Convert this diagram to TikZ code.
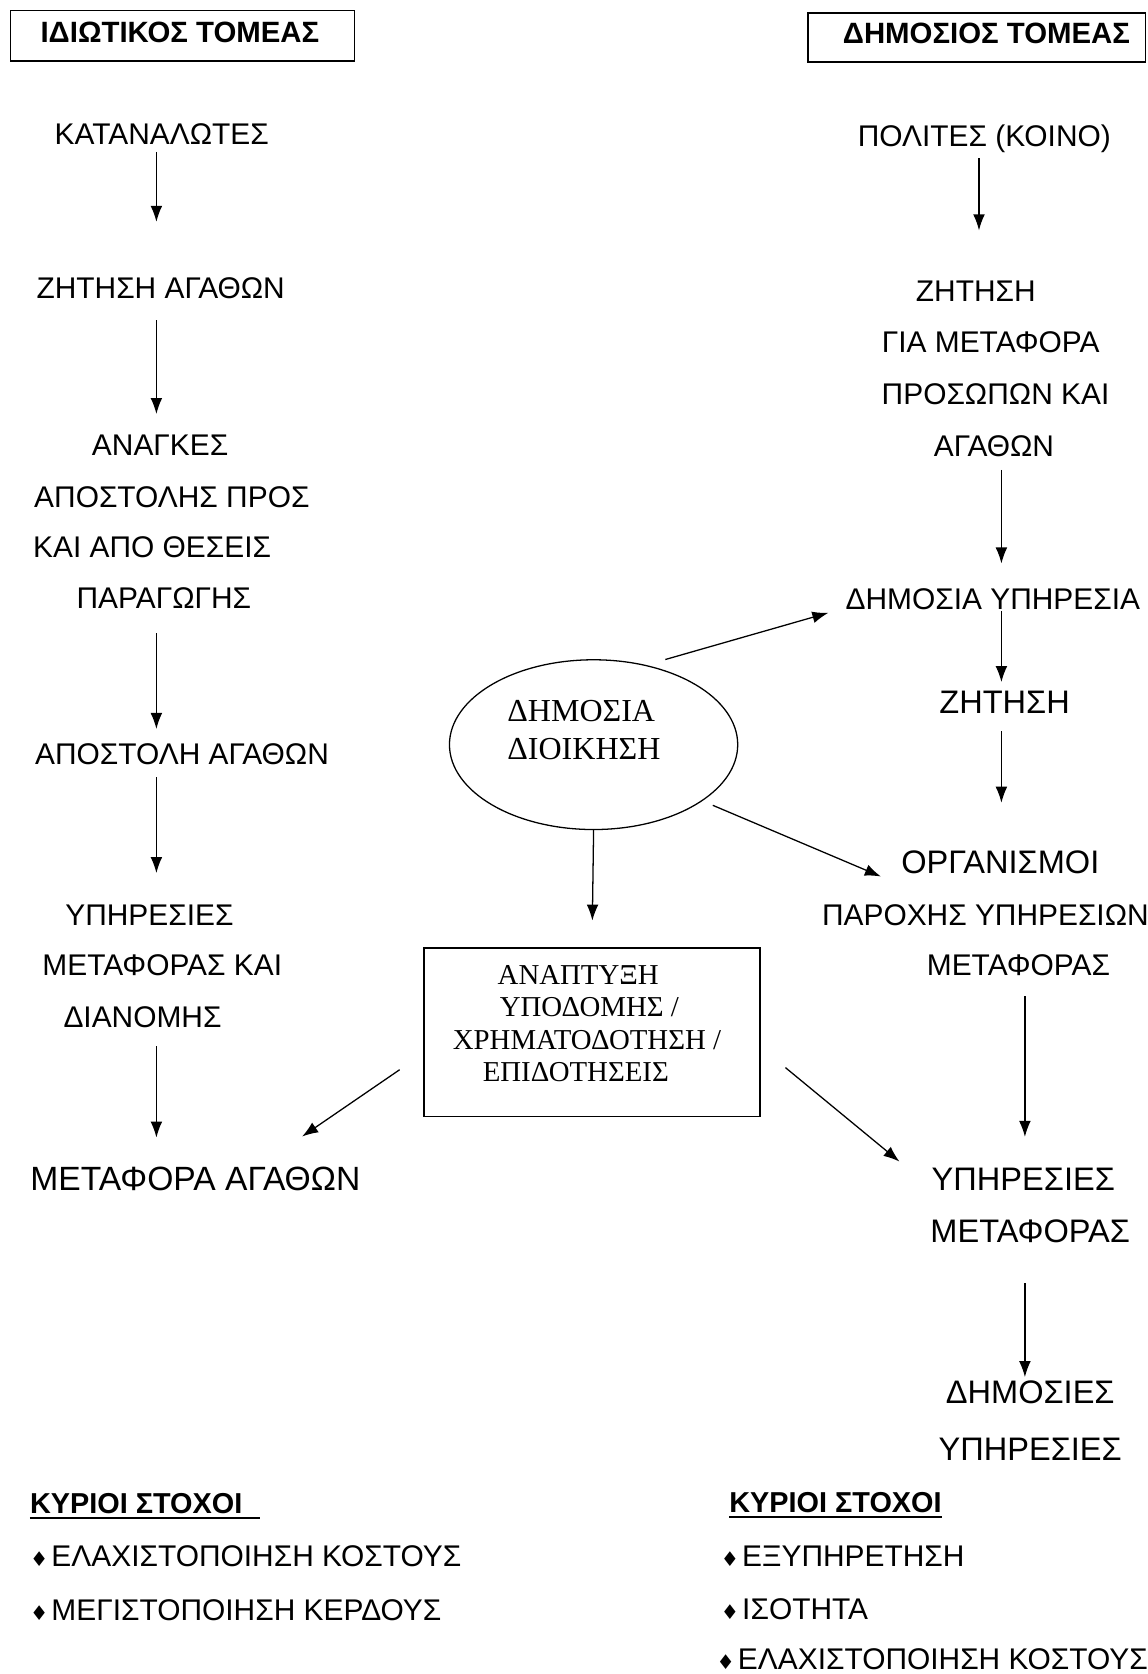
\documentclass[tikz,border=0pt]{standalone}
\usepackage{fontspec}
\setmainfont{Liberation Sans}
\newfontfamily\timesgr{Liberation Serif}
\newfontfamily\symfont{DejaVu Sans}
\usetikzlibrary{arrows.meta,shapes.geometric}

% small diamond bullet in front of each goal
\newcommand\gdmd{{\symfont\fontsize{19}{19}\selectfont ♦}\hspace{3pt}}

\tikzset{
  lbl/.style={inner sep=0pt, font=\fontsize{28}{28}\selectfont, text height=20pt, text depth=0pt},
  lblbig/.style={inner sep=0pt, font=\fontsize{30.5}{30.5}\selectfont, text height=21.8pt, text depth=0pt},
  lblhuge/.style={inner sep=0pt, font=\fontsize{31.5}{31.5}\selectfont, text height=22.5pt, text depth=0pt},
  ttl/.style={inner sep=0pt, font=\bfseries\fontsize{27.5}{27.5}\selectfont, text height=19.7pt, text depth=0pt},
  goal/.style={lbl, anchor=west},
  goalhead/.style={inner sep=0pt, anchor=west, font=\bfseries\fontsize{27}{27}\selectfont, text height=19.3pt, text depth=0pt},
  srf/.style={inner sep=0pt, anchor=west, font=\timesgr\fontsize{30}{30}\selectfont, text height=20pt, text depth=0pt},
  srfbox/.style={inner sep=0pt, anchor=west, font=\timesgr\fontsize{27}{27}\selectfont, text height=17.8pt, text depth=0pt},
  frame/.style={draw, line width=1.4pt, inner sep=0pt},
  arr/.style={draw, line width=1.2pt, -{Latex[length=15pt,width=11pt]}},
  uline/.style={draw, line width=1.6pt},
}

\begin{document}
\begin{tikzpicture}[x=1pt,y=-1pt]
\fill[white] (0,0) rectangle (1075,1568);
\useasboundingbox (0,0) rectangle (1075,1568);

% ---------------- private sector column ----------------
\node[frame, minimum width=322pt, minimum height=47pt] (privbox) at (171,33.5) {};
\node[ttl] (privttl) at (168.5,30) {ΙΔΙΩΤΙΚΟΣ ΤΟΜΕΑΣ};
\node[lbl] (cons)  at (151.5,125) {ΚΑΤΑΝΑΛΩΤΕΣ};
\node[lbl] (dem)   at (150.5,270) {ΖΗΤΗΣΗ ΑΓΑΘΩΝ};
\node[lbl] (need1) at (150,417)   {ΑΝΑΓΚΕΣ};
\node[lbl] (need2) at (161,465)   {ΑΠΟΣΤΟΛΗΣ ΠΡΟΣ};
\node[lbl] (need3) at (142.5,512) {ΚΑΙ ΑΠΟ ΘΕΣΕΙΣ};
\node[lbl] (need4) at (153.5,560) {ΠΑΡΑΓΩΓΗΣ};
\node[lbl] (ship)  at (170.5,706) {ΑΠΟΣΤΟΛΗ ΑΓΑΘΩΝ};
\node[lbl] (dist1) at (140,857)   {ΥΠΗΡΕΣΙΕΣ};
\node[lbl] (dist2) at (152,904)   {ΜΕΤΑΦΟΡΑΣ ΚΑΙ};
\node[lbl] (dist3) at (133.5,952) {ΔΙΑΝΟΜΗΣ};
\node[lblhuge] (goods) at (183,1104) {ΜΕΤΑΦΟΡΑ ΑΓΑΘΩΝ};

\coordinate (colL) at (146.5,0);
\draw[arr, shorten <=7pt,  shorten >=52pt] (cons.south -| colL)  -- (dem.north -| colL);
\draw[arr, shorten <=20pt, shorten >=19pt] (dem.south -| colL)   -- (need1.north -| colL);
\draw[arr, shorten <=23pt, shorten >=13pt] (need4.south -| colL) -- (ship.north -| colL);
\draw[arr, shorten <=12pt, shorten >=29pt] (ship.south -| colL)  -- (dist1.north -| colL);
\draw[arr, shorten <=18pt, shorten >=27pt] (dist3.south -| colL) -- (goods.north -| colL);

% ---------------- public sector column ----------------
\node[frame, minimum width=316pt, minimum height=46pt] (pubbox) at (915,35) {};
\node[ttl] (pubttl) at (924,31) {ΔΗΜΟΣΙΟΣ ΤΟΜΕΑΣ};
\node[lbl] (cit)  at (922,127)   {ΠΟΛΙΤΕΣ (ΚΟΙΝΟ)};
\node[lbl] (req1) at (914,272)   {ΖΗΤΗΣΗ};
\node[lbl] (req2) at (928,320)   {ΓΙΑ ΜΕΤΑΦΟΡΑ};
\node[lbl] (req3) at (932.5,369) {ΠΡΟΣΩΠΩΝ ΚΑΙ};
\node[lbl] (req4) at (931,418)   {ΑΓΑΘΩΝ};
\node[lbl] (psvc) at (930,561)   {ΔΗΜΟΣΙΑ ΥΠΗΡΕΣΙΑ};
\node[lblbig] (req5) at (941,657)   {ΖΗΤΗΣΗ};
\node[lblbig] (org1) at (937,807)   {ΟΡΓΑΝΙΣΜΟΙ};
\node[lbl] (org2) at (923,857)   {ΠΑΡΟΧΗΣ ΥΠΗΡΕΣΙΩΝ};
\node[lbl] (org3) at (954,904)   {ΜΕΤΑΦΟΡΑΣ};
\node[lblbig] (ts1)  at (958.5,1104) {ΥΠΗΡΕΣΙΕΣ};
\node[lblbig] (ts2)  at (965,1153)  {ΜΕΤΑΦΟΡΑΣ};
\node[lblbig] (pub1) at (965,1304)  {ΔΗΜΟΣΙΕΣ};
\node[lblbig] (pub2) at (965,1357)  {ΥΠΗΡΕΣΙΕΣ};

\coordinate (colRa) at (917,0);
\coordinate (colRb) at (938,0);
\coordinate (colRc) at (960,0);
\draw[arr, shorten <=11pt, shorten >=46pt] (cit.south -| colRa)  -- (req1.north -| colRa);
\draw[arr, shorten <=12pt, shorten >=23pt] (req4.south -| colRb) -- (psvc.north -| colRb);
\draw[arr, shorten <=1pt,  shorten >=7pt]  (psvc.south -| colRb) -- (req5.north -| colRb);
\draw[arr, shorten <=17pt, shorten >=44pt] (req5.south -| colRb) -- (org1.north -| colRb);
\draw[arr, shorten <=19pt, shorten >=28pt] (org3.south -| colRc) -- (ts1.north -| colRc);
\draw[arr, shorten <=38pt, shorten >=3pt]  (ts2.south -| colRc)  -- (pub1.north -| colRc);

% ---------------- public administration ----------------
\node[draw, ellipse, line width=1.2pt, minimum width=270pt, minimum height=159pt, inner sep=0pt] (adm) at (556,697.5) {};
\node[srf] (adm1) at (475,666) {ΔΗΜΟΣΙΑ};
\node[srf] (adm2) at (475,701) {ΔΙΟΙΚΗΣΗ};

\node[frame, minimum width=315pt, minimum height=158pt] (fund) at (554.5,967) {};
\node[srfbox] (f1) at (466,913.5) {ΑΝΑΠΤΥΞΗ};
\node[srfbox] (f2) at (468,943)   {ΥΠΟΔΟΜΗΣ /};
\node[srfbox] (f3) at (424,974)   {ΧΡΗΜΑΤΟΔΟΤΗΣΗ /};
\node[srfbox] (f4) at (452,1004)  {ΕΠΙΔΟΤΗΣΕΙΣ};

\draw[arr] ([xshift=7pt,yshift=8pt]adm.50) -- ([xshift=-16pt,yshift=-13pt]psvc.west);
\draw[arr] ([xshift=9pt,yshift=-4.5pt]adm.-27) -- ([xshift=-19pt,yshift=-14pt]org1.west);
\draw[arr, shorten >=25pt] (adm.south) -- (fund.north);
\draw[arr] ([xshift=-22pt,yshift=-35pt]fund.west) -- ([xshift=100pt,yshift=28pt]goods.north);
\draw[arr] ([xshift=23pt,yshift=-33pt]fund.east) -- ([xshift=-30pt,yshift=16pt]ts1.west);

% ---------------- main goals ----------------
\node[goalhead] (gl) at (28,1408) {ΚΥΡΙΟΙ ΣΤΟΧΟΙ};
\draw[uline] ([yshift=-4pt]gl.south west) -- ([xshift=16pt,yshift=-4pt]gl.south east);
\node[goal] (gl1) at (28,1457) {\gdmd ΕΛΑΧΙΣΤΟΠΟΙΗΣΗ ΚΟΣΤΟΥΣ};
\node[goal] (gl2) at (28,1508) {\gdmd ΜΕΓΙΣΤΟΠΟΙΗΣΗ ΚΕΡΔΟΥΣ};

\node[goalhead] (gr) at (683,1407) {ΚΥΡΙΟΙ ΣΤΟΧΟΙ};
\draw[uline] ([yshift=-4pt]gr.south west) -- ([yshift=-4pt]gr.south east);
\node[goal] (gr1) at (675,1457) {\gdmd ΕΞΥΠΗΡΕΤΗΣΗ};
\node[goal] (gr2) at (675,1507) {\gdmd ΙΣΟΤΗΤΑ};
\node[goal] (gr3) at (671,1554) {\gdmd ΕΛΑΧΙΣΤΟΠΟΙΗΣΗ ΚΟΣΤΟΥΣ};
\end{tikzpicture}
\end{document}
